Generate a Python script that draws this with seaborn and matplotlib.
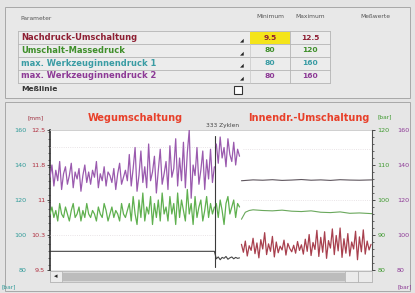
import numpy as np
import pandas as pd
import seaborn as sns
import matplotlib.pyplot as plt
from matplotlib.patches import Rectangle
from matplotlib.ticker import MultipleLocator

W, H = 415, 293

# ---- table data ----
param_names = ["Nachdruck-Umschaltung", "Umschalt-Massedruck",
               "max. Werkzeuginnendruck 1", "max. Werkzeuginnendruck 2"]
param_colors = ["#8e1f33", "#3f8f2a", "#3a9ca4", "#8d3a96"]
param_min = ["9.5", "80", "80", "80"]
param_max = ["12.5", "120", "160", "160"]

# ---- series data (cycle number -> value) ----
# Werkzeuginnendruck 2 [bar], purple, 80..160 scale
purple_a_cyc = np.arange(0, 171, 2)
purple_a = [133, 140, 128, 137, 131, 142, 126, 135, 139, 129, 134, 141, 127, 136, 132, 138, 125, 134, 140, 130, 136,
            129, 137, 133, 142, 127, 135, 131, 139, 128, 136, 134, 130, 138, 126, 135, 141, 129, 133, 137, 131,
            146, 128, 138, 150, 125, 134, 148, 130, 139, 127, 152, 131, 136, 145, 124, 137, 149, 129, 135, 142,
            126, 151, 133, 138, 155, 128, 144, 131, 153, 127, 147, 160, 121, 140, 134, 150, 129, 137, 148, 126,
            143, 132, 149, 130, 139]
purple_b_cyc = np.arange(172, 197, 2)
purple_b = [152, 141, 156, 144, 150, 139, 155, 146, 142, 153, 140, 149, 145]
purple_c_cyc = [198, 210, 220, 230, 240, 250, 260, 270, 280, 290, 300, 310, 320, 333]
purple_c = [131.0, 131.5, 131.3, 131.6, 131.2, 131.4, 131.7, 131.3, 131.5, 131.2, 131.6, 131.4, 131.3, 131.5]

# Umschalt-Massedruck [bar], green, 80..120 scale
green_a = [96, 98, 95, 97, 94, 99, 96, 95, 98, 96, 94, 97, 99, 95, 96, 98, 94, 97, 95, 99, 96,
           95, 97, 96, 94, 98, 96, 95, 99, 97, 94, 96, 98, 95, 97, 96, 94, 99, 96, 95, 97,
           99, 94, 101, 96, 93, 100, 95, 102, 94, 98, 96, 101, 93, 99, 95, 100, 94, 102, 96, 98,
           94, 101, 96, 99, 93, 102, 95, 100, 97, 94, 103, 96, 99, 93, 101, 95, 98, 100, 94, 97,
           101, 95, 99, 96, 98]
green_b = [99, 95, 100, 97, 93, 99, 101, 96, 98, 100, 95, 99, 98]
green_c_cyc = [198, 202, 206, 210, 220, 230, 240, 250, 260, 270, 280, 290, 300, 310, 320, 333]
green_c = [94.5, 96.5, 97.0, 97.2, 97.0, 96.9, 97.1, 96.8, 96.7, 96.9, 96.5, 96.4, 96.6, 96.2, 96.3, 96.1]

# Nachdruck-Umschaltung [mm], 9.5..12.5 scale
mm_a_cyc = [0, 170] + list(range(172, 197, 2))
mm_a = [9.9, 9.9, 9.74, 9.78, 9.72, 9.77, 9.75, 9.79, 9.73, 9.76, 9.78, 9.74, 9.77, 9.75, 9.76]
mm_b_cyc = np.arange(198, 333, 2)
mm_b = [10.05, 9.88, 10.12, 9.80, 10.02, 9.92, 10.18, 9.85, 10.08, 9.76, 10.15, 9.95, 10.30, 9.83,
        10.06, 9.90, 10.22, 9.78, 10.10, 9.87, 10.01, 9.93, 10.14, 9.82,
        10.07, 9.96, 9.89, 10.03, 9.86, 10.11, 9.92, 10.04, 9.84, 10.16, 9.90, 10.26, 9.81, 10.09,
        9.94, 10.35, 9.79, 10.20, 9.88, 10.32, 9.75, 10.13, 9.97, 10.38,
        9.83, 10.24, 9.91, 10.40, 9.77, 10.17, 9.86, 10.28, 9.80, 10.10, 9.95, 10.33, 9.72, 10.21,
        9.89, 10.36, 9.84, 10.12, 9.93, 10.05]

switch_cycle = 171
n_cycles = 333

left_mm_ticks = [9.5, 10.25, 11.0, 11.75, 12.5]
left_mm_labels = ["9.5", "10.3", "11", "11.8", "12.5"]
bar160_ticks = [80, 100, 120, 140, 160]
bar120_ticks = [80, 90, 100, 110, 120]

sns.set_theme(style="white")
plt.rcParams["font.family"] = ["DejaVu Sans"]

BG = "#e4e4e4"
fig = plt.figure(figsize=(W / 100, H / 100), dpi=100)
fig.patch.set_facecolor(BG)


def fx(x):
    return x / W


def fy(y):
    return 1 - y / H


def frect(x0, y0, x1, y1, zorder=-5, **kw):
    fig.add_artist(Rectangle((fx(x0), fy(y1)), fx(x1) - fx(x0), fy(y0) - fy(y1),
                             transform=fig.transFigure, zorder=zorder, **kw))


def fline(xs, ys, zorder=-4, **kw):
    fig.add_artist(plt.Line2D([fx(v) for v in xs], [fy(v) for v in ys],
                              transform=fig.transFigure, zorder=zorder, **kw))


# ---- top parameter panel ----
frect(5, 7, 410, 98, facecolor="#e8e8e8", edgecolor="#a8a8a8", lw=0.7)
fig.text(fx(20), fy(18), "Parameter", fontsize=4.3, color="#555555", va="center")
fig.text(fx(270), fy(16), "Minimum", fontsize=4.3, color="#555555", va="center", ha="center")
fig.text(fx(310), fy(16), "Maximum", fontsize=4.3, color="#555555", va="center", ha="center")
fig.text(fx(375), fy(16), "Meßwerte", fontsize=4.3, color="#555555", va="center", ha="center")

row_y = [38, 50.5, 63, 76]
frect(18, 31, 330, 83, zorder=-4, facecolor="#ececec", edgecolor="none")
frect(250, 32, 290, 43.5, zorder=-3, facecolor="#f4e41a", edgecolor="none")
for yl in [31, 44, 57, 70, 83]:
    fline([18, 330], [yl, yl], color="#b4b4b4", lw=0.6)
for xl in [18, 290, 330]:
    fline([xl, xl], [31, 83], color="#b4b4b4", lw=0.6)
fline([250, 250], [31, 83], color="#c8c8c8", lw=0.5)

for name, col, vmin, vmax, yy in zip(param_names, param_colors, param_min, param_max, row_y):
    fig.text(fx(21), fy(yy), name, fontsize=6.0, fontweight="bold", color=col, va="center")
    fig.text(fx(270), fy(yy), vmin, fontsize=5.4, fontweight="bold", color=col, va="center", ha="center")
    fig.text(fx(310), fy(yy), vmax, fontsize=5.4, fontweight="bold", color=col, va="center", ha="center")
    fig.text(fx(242), fy(yy + 2), "◢", fontsize=3.5, color="#222222", va="center", ha="center")

fig.text(fx(21), fy(89), "Meßlinie", fontsize=5.4, fontweight="bold", color="#333333", va="center")
frect(234, 86, 242, 94, zorder=2, facecolor="white", edgecolor="#333333", lw=0.8)

# ---- chart panel ----
frect(5, 102, 410, 291, facecolor="#e6e6e6", edgecolor="#a8a8a8", lw=0.7)

ax = fig.add_axes([fx(50), fy(270), fx(372) - fx(50), fy(130) - fy(270)])
ax.set_facecolor("white")
ax_g = ax.twinx()
ax_p = ax.twinx()

ax.set_xlim(0, n_cycles)
ax.set_ylim(9.5, 12.5)
ax_g.set_ylim(80, 120)
ax_p.set_ylim(80, 160)

# faint limit lines
ax_p.plot([0, switch_cycle], [150, 150], color="#e2dade", lw=0.6, ls=":")
ax_p.plot([0, switch_cycle], [100, 100], color="#e2dade", lw=0.6, ls=":")
ax_p.plot([200, n_cycles], [149, 149], color="#e2dade", lw=0.6, ls=":")
ax_p.plot([200, n_cycles], [120, 120], color="#e2dade", lw=0.6, ls=":")

df_pa = pd.DataFrame({"cycle": purple_a_cyc, "bar": purple_a})
df_pb = pd.DataFrame({"cycle": purple_b_cyc, "bar": purple_b})
df_pc = pd.DataFrame({"cycle": purple_c_cyc, "bar": purple_c})
df_ga = pd.DataFrame({"cycle": purple_a_cyc, "bar": green_a})
df_gb = pd.DataFrame({"cycle": purple_b_cyc, "bar": green_b})
df_gc = pd.DataFrame({"cycle": green_c_cyc, "bar": green_c})
df_ma = pd.DataFrame({"cycle": mm_a_cyc, "mm": mm_a})
df_mb = pd.DataFrame({"cycle": mm_b_cyc, "mm": mm_b})

sns.lineplot(data=df_ga, x="cycle", y="bar", ax=ax_g, color="#5fb04f", lw=0.9, estimator=None)
sns.lineplot(data=df_gb, x="cycle", y="bar", ax=ax_g, color="#5fb04f", lw=0.9, estimator=None)
sns.lineplot(data=df_gc, x="cycle", y="bar", ax=ax_g, color="#6aa85c", lw=0.8, estimator=None)
sns.lineplot(data=df_pa, x="cycle", y="bar", ax=ax_p, color="#9a5aae", lw=0.9, estimator=None)
sns.lineplot(data=df_pb, x="cycle", y="bar", ax=ax_p, color="#9a5aae", lw=0.9, estimator=None)
sns.lineplot(data=df_pc, x="cycle", y="bar", ax=ax_p, color="#5f565e", lw=0.8, estimator=None)
sns.lineplot(data=df_ma, x="cycle", y="mm", ax=ax, color="#454545", lw=0.8, estimator=None)
sns.lineplot(data=df_mb, x="cycle", y="mm", ax=ax, color="#a8404e", lw=0.9, estimator=None)
ax.axvline(switch_cycle, ymin=0.02, ymax=0.96, color="#3a3a3a", lw=0.8)

for a in (ax, ax_g, ax_p):
    a.set_xlabel("")
    a.set_ylabel("")
    a.set_xticks([])
    for s in a.spines.values():
        s.set_visible(False)

ax.spines["left"].set_visible(True)
ax.spines["left"].set_color("#303030")
ax.spines["left"].set_linewidth(1.2)
ax.spines["top"].set_visible(True)
ax.spines["top"].set_color("#c8c8c8")
ax.spines["top"].set_linewidth(0.6)
ax_g.spines["right"].set_visible(True)
ax_g.spines["right"].set_color("#505050")
ax_g.spines["right"].set_linewidth(0.8)

ax.set_yticks(left_mm_ticks)
ax.set_yticklabels(left_mm_labels)
ax.yaxis.set_minor_locator(MultipleLocator(0.15))
ax.tick_params(axis="y", which="major", direction="out", length=2.5, width=0.6, pad=1,
               labelsize=4.6, labelcolor="#b03040", color="#303030", left=True, right=False)
ax.tick_params(axis="y", which="minor", direction="out", length=1.2, width=0.5, color="#303030",
               left=True, right=False)

ax_g.set_yticks(bar120_ticks)
ax_g.yaxis.set_minor_locator(MultipleLocator(2))
ax_g.tick_params(axis="y", which="major", direction="out", length=2.5, width=0.6, pad=1.5,
                 labelsize=4.6, labelcolor="#3f9a30", color="#303030")
ax_g.tick_params(axis="y", which="minor", direction="out", length=1.2, width=0.5, color="#303030")

ax_p.set_yticks(bar160_ticks)
ax_p.tick_params(axis="y", which="both", length=0, pad=18, labelsize=4.6, labelcolor="#8d3a96")
ax_p.yaxis.set_minor_locator(MultipleLocator(1000))

sec = ax_p.secondary_yaxis("left")
sec.set_yticks(bar160_ticks)
sec.tick_params(axis="y", length=0, pad=17, labelsize=4.6, labelcolor="#2f9a98")
sec.spines["left"].set_visible(False)

# units and titles
fig.text(fx(36), fy(118), "[mm]", fontsize=4.2, color="#a03040", ha="center", va="center")
fig.text(fx(9), fy(287), "[bar]", fontsize=4.2, color="#2f9a98", ha="center", va="center")
fig.text(fx(385), fy(117), "[bar]", fontsize=4.2, color="#3f9a30", ha="center", va="center")
fig.text(fx(405), fy(287), "[bar]", fontsize=4.2, color="#8d3a96", ha="center", va="center")
fig.text(fx(135), fy(118), "Wegumschaltung", fontsize=7, fontweight="bold", color="#e8402a",
         ha="center", va="center")
fig.text(fx(309), fy(118), "Innendr.-Umschaltung", fontsize=7, fontweight="bold", color="#e8402a",
         ha="center", va="center")
fig.text(fx(222), fy(125), "333 Zyklen", fontsize=4.2, color="#444444", ha="center", va="center")

# scrollbar
frect(50, 271, 372, 282, zorder=2, facecolor="#d8d8d8", edgecolor="#b0b0b0", lw=0.5)
frect(62, 272.5, 345, 280.5, zorder=3, facecolor="#bcbcbc", edgecolor="none")
frect(50, 271, 62, 282, zorder=3, facecolor="#ebebeb", edgecolor="#b0b0b0", lw=0.5)
frect(345, 271, 358, 282, zorder=3, facecolor="#ebebeb", edgecolor="#b0b0b0", lw=0.5)
frect(358, 271, 372, 282, zorder=3, facecolor="#ebebeb", edgecolor="#b0b0b0", lw=0.5)
fig.text(fx(56), fy(276.5), "◂", fontsize=5, color="#222222", ha="center", va="center", zorder=4)

fig.savefig("out.png", dpi=100, facecolor=fig.get_facecolor())
